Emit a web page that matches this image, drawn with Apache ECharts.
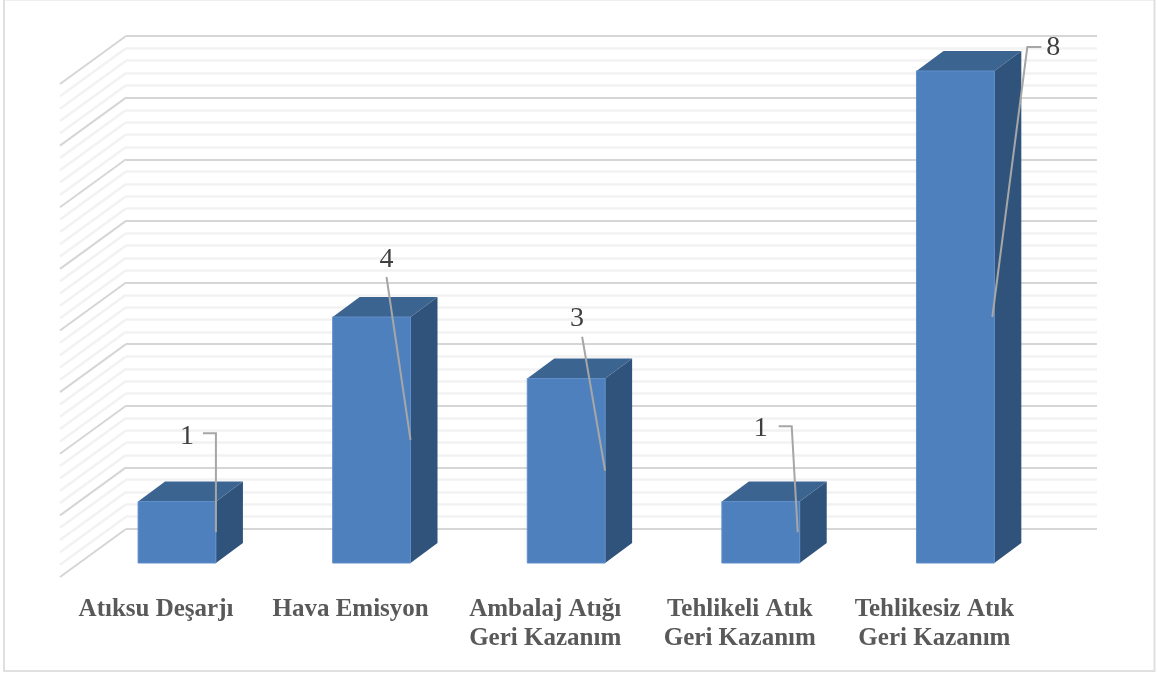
<!DOCTYPE html>
<html>
<head>
<meta charset="utf-8">
<style>html,body{margin:0;padding:0;background:#fff}#chart{width:1157px;height:675px}</style>
<script src="https://cdn.jsdelivr.net/npm/echarts@6/dist/echarts.min.js"></script>
</head>
<body>
<div id="chart"></div>
<script>
// Waste indicator counts, one column per category
const categories = ['Atıksu Deşarjı', 'Hava Emisyon', 'Ambalaj Atığı\nGeri Kazanım', 'Tehlikeli Atık\nGeri Kazanım', 'Tehlikesiz Atık\nGeri Kazanım'];
const counts = [1, 4, 3, 1, 8];
const axisMax = 8;
const minorSteps = 5;

// Leader routes for the value labels, as offsets from the middle of each column's right edge
const leaderRoutes = [
  { text: [-29, -96], path: [[-13, -99], [0, -99], [0, 0]] },
  { text: [-24, -180], path: [[-24, -163], [0, 0]] },
  { text: [-28, -152], path: [[-23, -134], [0, 0]] },
  { text: [-39, -104], path: [[-21, -106], [-8, -106], [-2, 0]] },
  { text: [59, -269], path: [[47, -270], [33, -270], [-2, 0]] }
];

const MAJOR = '#d6d6d6', MINOR = '#f2f2f2';
const DEPTH_X = 27, DEPTH_Y = 20;      // column extrusion
const WALL_X = 66, WALL_Y = 48;        // side wall extrusion
const BAR_RATIO = 0.4;

const wallTicks = [];
for (let i = 0; i <= axisMax * minorSteps; i++) wallTicks.push(i / minorSteps);

function renderSideWall(params, api) {
  const v = api.value(0);
  const p = api.coord([0, v]);
  const isMajor = Number.isInteger(v);
  return {
    type: 'line',
    z2: isMajor ? 2 : 1,
    shape: { x1: p[0], y1: p[1], x2: p[0] - WALL_X, y2: p[1] + WALL_Y },
    style: { stroke: isMajor ? MAJOR : MINOR, lineWidth: isMajor ? 2 : 2.5 }
  };
}

function renderColumn(params, api) {
  const idx = api.value(0);
  const top = api.coord([idx, api.value(1)]);
  const base = api.coord([idx, 0]);
  const w = api.size([1, 0])[0] * BAR_RATIO;
  const l = top[0] - w / 2, r = top[0] + w / 2;
  return {
    type: 'group',
    children: [
      { type: 'polygon',
        shape: { points: [[r, top[1]], [r + DEPTH_X, top[1] - DEPTH_Y], [r + DEPTH_X, base[1] - DEPTH_Y], [r, base[1]]] },
        style: { fill: '#30537c' } },
      { type: 'polygon',
        shape: { points: [[l, top[1]], [l + DEPTH_X, top[1] - DEPTH_Y], [r + DEPTH_X, top[1] - DEPTH_Y], [r, top[1]]] },
        style: { fill: '#3c6491' } },
      { type: 'rect',
        shape: { x: l, y: top[1], width: w, height: base[1] - top[1] },
        style: { fill: '#4e80bd', stroke: '#5f8fca', lineWidth: 1 } }
    ]
  };
}

function renderLeader(params, api) {
  const idx = api.value(0);
  const val = api.value(1);
  const top = api.coord([idx, val]);
  const base = api.coord([idx, 0]);
  const w = api.size([1, 0])[0] * BAR_RATIO;
  const ax = top[0] + w / 2, ay = (top[1] + base[1]) / 2;
  const route = leaderRoutes[idx];
  return {
    type: 'group',
    children: [
      { type: 'polyline',
        shape: { points: route.path.map(o => [ax + o[0], ay + o[1]]) },
        style: { stroke: '#a6a6a6', lineWidth: 2, fill: 'none' } },
      { type: 'text',
        style: {
          x: ax + route.text[0], y: ay + route.text[1],
          text: String(val), fill: '#404040',
          font: '28px "Liberation Serif"', align: 'center', verticalAlign: 'middle'
        } }
    ]
  };
}

const chart = echarts.init(document.getElementById('chart'), null, { renderer: 'canvas' });
chart.setOption({
  animation: false,
  backgroundColor: '#fff',
  graphic: [{
    type: 'rect', silent: true, z: -1,
    shape: { x: 4, y: -0.5, width: 1150.5, height: 671.5 },
    style: { fill: 'none', stroke: '#e0e0e0', lineWidth: 2 }
  }],
  grid: [
    { left: 126, width: 971, top: 36, height: 493 },   // back wall
    { left: 79.7, width: 973, top: 71, height: 492 },  // columns
    { left: 58.7, width: 973, top: 500, height: 77 }   // floor front edge, carries the labels
  ],
  xAxis: [
    { gridIndex: 0, type: 'value', min: 0, max: 1, show: false },
    { gridIndex: 1, type: 'category', data: categories, show: false },
    { gridIndex: 2, type: 'category', data: categories,
      axisLine: { show: false }, axisTick: { show: false }, splitLine: { show: false },
      axisLabel: {
        interval: 0, margin: 18, color: '#595959',
        fontFamily: 'Liberation Serif', fontWeight: 'bold', fontSize: 25, lineHeight: 29
      } }
  ],
  yAxis: [
    { gridIndex: 0, type: 'value', min: 0, max: axisMax, interval: 1,
      axisLine: { show: false }, axisTick: { show: false }, axisLabel: { show: false },
      splitLine: { show: true, lineStyle: { color: MAJOR, width: 2 } },
      minorTick: { show: false, splitNumber: minorSteps },
      minorSplitLine: { show: true, lineStyle: { color: MINOR, width: 2.5 } } },
    { gridIndex: 1, type: 'value', min: 0, max: axisMax, show: false },
    { gridIndex: 2, type: 'value', min: 0, max: 1, show: false }
  ],
  series: [
    { type: 'custom', name: 'wall', xAxisIndex: 0, yAxisIndex: 0, z: 1, silent: true,
      renderItem: renderSideWall, data: wallTicks.map(v => [v]), encode: { y: 0 } },
    { type: 'custom', name: 'columns', xAxisIndex: 1, yAxisIndex: 1, z: 2, silent: true,
      renderItem: renderColumn, data: counts.map((c, i) => [i, c]), encode: { x: 0, y: 1 } },
    { type: 'custom', name: 'labels', xAxisIndex: 1, yAxisIndex: 1, z: 3, silent: true,
      renderItem: renderLeader, data: counts.map((c, i) => [i, c]), encode: { x: 0, y: 1 } }
  ]
});
</script>
</body>
</html>
